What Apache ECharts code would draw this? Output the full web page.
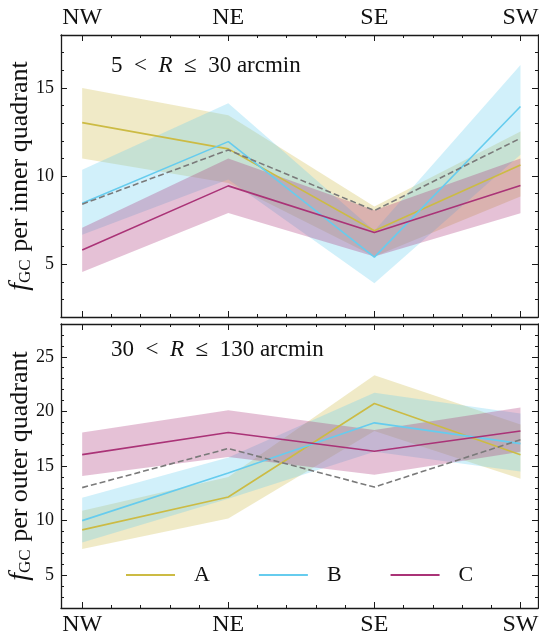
<!DOCTYPE html>
<html><head><meta charset="utf-8">
<script src="https://cdn.jsdelivr.net/npm/echarts@6/dist/echarts.min.js"></script>
<style>html,body{margin:0;padding:0;background:#fff}#c{width:539px;height:637px}</style>
</head><body><div id="c"></div>
<script>
const categories = ['NW', 'NE', 'SE', 'SW'];
const seriesNames = ['A', 'B', 'C'];

// inner panel (5 < R <= 30 arcmin)
const innerA = [13.03, 11.54, 6.89, 10.63];
const innerALo = [11.0, 9.6, 5.43, 8.83];
const innerAHi = [15.0, 13.45, 8.27, 12.52];
const innerB = [8.46, 11.95, 5.4, 13.94];
const innerBLo = [6.66, 9.8, 3.92, 11.2];
const innerBHi = [10.35, 14.13, 6.9, 16.3];
const innerC = [5.8, 9.44, 6.8, 9.46];
const innerCLo = [4.55, 7.9, 5.43, 7.89];
const innerCHi = [7.07, 11.0, 8.05, 11.0];
const innerRef = [8.4, 11.48, 8.04, 12.14];

// outer panel (30 < R <= 130 arcmin)
const outerA = [9.15, 12.16, 20.72, 16.04];
const outerALo = [7.4, 10.2, 18.2, 13.84];
const outerAHi = [10.9, 14.0, 23.3, 18.8];
const outerB = [10.0, 14.36, 18.95, 17.05];
const outerBLo = [8.0, 12.0, 16.3, 14.5];
const outerBHi = [12.1, 15.77, 21.7, 19.8];
const outerC = [16.04, 18.06, 16.35, 18.2];
const outerCLo = [14.08, 15.83, 14.2, 16.3];
const outerCHi = [18.06, 20.1, 18.3, 20.36];
const outerRef = [13.02, 16.6, 13.07, 17.4];

const innerMajor = [5, 10, 15];
const outerMajor = [5, 10, 15, 20, 25];
const xMajor = [0, 1, 2, 3];

const COLORS = ['#CCBB44', '#66CCEE', '#AA3377'];
const REF_COLOR = '#7a7a7a';
const FONT = 'Liberation Serif';
const XMIN = -0.145, XMAX = 3.12;
const AX = '#1a1a1a';
const EN = '\u2002';

function range(a, b, step) { const r = []; for (let v = a; v <= b + 1e-9; v += step) r.push(+v.toFixed(4)); return r; }
const xMinor = range(0.2, 2.8, 0.2).filter(v => Math.abs(v - Math.round(v)) > 1e-6);
const innerMinor = range(3, 17, 1).filter(v => v % 5 !== 0);
const outerMinor = range(3, 27, 1).filter(v => v % 5 !== 0);

const gTop = {left: 61, right: 1, top: 35, height: 282, outerBoundsMode: 'none', containLabel: false};
const gBot = {left: 61, right: 1, top: 324, height: 284, outerBoundsMode: 'none', containLabel: false};
const grids = [gTop, Object.assign({}, gTop), gBot, Object.assign({}, gBot)];

const xAxis = [], yAxis = [];
function addX(grid, pos, ticks, len, showLine, labels) {
  xAxis.push({
    gridIndex: grid, type: 'value', position: pos, min: XMIN, max: XMAX,
    splitLine: {show: false},
    axisLine: {show: showLine, onZero: false, lineStyle: {color: AX, width: 1.3}},
    axisTick: {show: true, inside: true, length: len, customValues: ticks, lineStyle: {color: AX, width: 1}},
    axisLabel: labels ? {show: true, customValues: xMajor, formatter: v => categories[Math.round(v)] || '',
      fontFamily: FONT, fontSize: 24, color: '#111', margin: 5} : {show: false}
  });
}
function addY(grid, pos, min, max, ticks, len, showLine, labels, name) {
  yAxis.push({
    gridIndex: grid, type: 'value', position: pos, min: min, max: max,
    splitLine: {show: false},
    axisLine: {show: showLine, onZero: false, lineStyle: {color: AX, width: 1.3}},
    axisTick: {show: true, inside: true, length: len, customValues: ticks, lineStyle: {color: AX, width: 1}},
    axisLabel: labels ? {show: true, customValues: labels, fontFamily: FONT, fontSize: 18, color: '#111', margin: 7} : {show: false},
    name: name || '', nameLocation: 'middle', nameGap: 27, nameRotate: 90, nameMoveOverlap: false,
    nameTextStyle: {fontFamily: FONT, fontSize: 26, color: '#111',
      rich: {it: {fontFamily: FONT, fontStyle: 'italic', fontSize: 28, color: '#111'},
             sub: {fontFamily: FONT, fontSize: 17, color: '#111', padding: [11, 1, 0, 0]},
             n: {fontFamily: FONT, fontSize: 26, color: '#111'}}}
  });
}
// grid 0: top panel major
addX(0, 'bottom', xMajor, 6, true, false);
addX(0, 'top', xMajor, 6, true, true);
addY(0, 'left', 2, 18, innerMajor, 6, true, innerMajor, '{it|f}{sub|GC}{n| per inner quadrant}');
addY(0, 'right', 2, 18, innerMajor, 6, true, null);
// grid 1: top panel minor
addX(1, 'bottom', xMinor, 3, false, false);
addX(1, 'top', xMinor, 3, false, false);
addY(1, 'left', 2, 18, innerMinor, 3, false, null);
addY(1, 'right', 2, 18, innerMinor, 3, false, null);
// grid 2: bottom panel major
addX(2, 'bottom', xMajor, 6, true, true);
addX(2, 'top', xMajor, 6, true, false);
addY(2, 'left', 2, 28, outerMajor, 6, true, outerMajor, '{it|f}{sub|GC}{n| per outer quadrant}');
addY(2, 'right', 2, 28, outerMajor, 6, true, null);
// grid 3: bottom panel minor
addX(3, 'bottom', xMinor, 3, false, false);
addX(3, 'top', xMinor, 3, false, false);
addY(3, 'left', 2, 28, outerMinor, 3, false, null);
addY(3, 'right', 2, 28, outerMinor, 3, false, null);

function band(axisIdx, lo, hi, color) {
  return {
    type: 'custom', xAxisIndex: axisIdx, yAxisIndex: axisIdx, silent: true, z: 1,
    data: [[0, lo[0], hi[0]]],
    renderItem: function (params, api) {
      const pts = [];
      for (let i = 0; i < hi.length; i++) pts.push(api.coord([i, hi[i]]));
      for (let i = lo.length - 1; i >= 0; i--) pts.push(api.coord([i, lo[i]]));
      return {type: 'polygon', shape: {points: pts}, style: {fill: color, opacity: 0.3}};
    }
  };
}
function line(axisIdx, name, vals, color, dashed) {
  return {
    type: 'line', name: name, xAxisIndex: axisIdx, yAxisIndex: axisIdx, symbol: 'none', z: 3,
    data: vals.map((v, i) => [i, v]),
    lineStyle: {color: color, width: 1.6, type: dashed ? [6, 3] : 'solid'},
    itemStyle: {color: color}, animation: false
  };
}

const series = [
  band(0, innerALo, innerAHi, COLORS[0]),
  band(0, innerBLo, innerBHi, COLORS[1]),
  band(0, innerCLo, innerCHi, COLORS[2]),
  line(0, 'A', innerA, COLORS[0]),
  line(0, 'B', innerB, COLORS[1]),
  line(0, 'C', innerC, COLORS[2]),
  line(0, 'ref', innerRef, REF_COLOR, true),
  band(4, outerALo, outerAHi, COLORS[0]),
  band(4, outerBLo, outerBHi, COLORS[1]),
  band(4, outerCLo, outerCHi, COLORS[2]),
  line(4, 'A', outerA, COLORS[0]),
  line(4, 'B', outerB, COLORS[1]),
  line(4, 'C', outerC, COLORS[2]),
  line(4, 'ref', outerRef, REF_COLOR, true)
];

const chart = echarts.init(document.getElementById('c'), null, {renderer: 'canvas'});
chart.setOption({
  animation: false,
  backgroundColor: '#fff',
  grid: grids,
  xAxis: xAxis,
  yAxis: yAxis,
  legend: {
    show: true, orient: 'horizontal', data: seriesNames, left: 121, top: 559,
    icon: 'rect', itemWidth: 49, itemHeight: 2, itemGap: 49,
    textStyle: {fontFamily: FONT, fontSize: 22, color: '#111', padding: [0, 0, 0, 14]}
  },
  graphic: [
    {type: 'text', left: 111, top: 54, style: {text: '{n|5' + EN + '<' + EN + '}{i|R}{n|' + EN + '≤' + EN + '30 arcmin}',
      rich: {n: {fontFamily: FONT, fontSize: 23, fill: '#111'}, i: {fontFamily: FONT, fontStyle: 'italic', fontSize: 23, fill: '#111'}}}},
    {type: 'text', left: 111, top: 338, style: {text: '{n|30' + EN + '<' + EN + '}{i|R}{n|' + EN + '≤' + EN + '130 arcmin}',
      rich: {n: {fontFamily: FONT, fontSize: 23, fill: '#111'}, i: {fontFamily: FONT, fontStyle: 'italic', fontSize: 23, fill: '#111'}}}}
  ],
  series: series
});
</script></body></html>
